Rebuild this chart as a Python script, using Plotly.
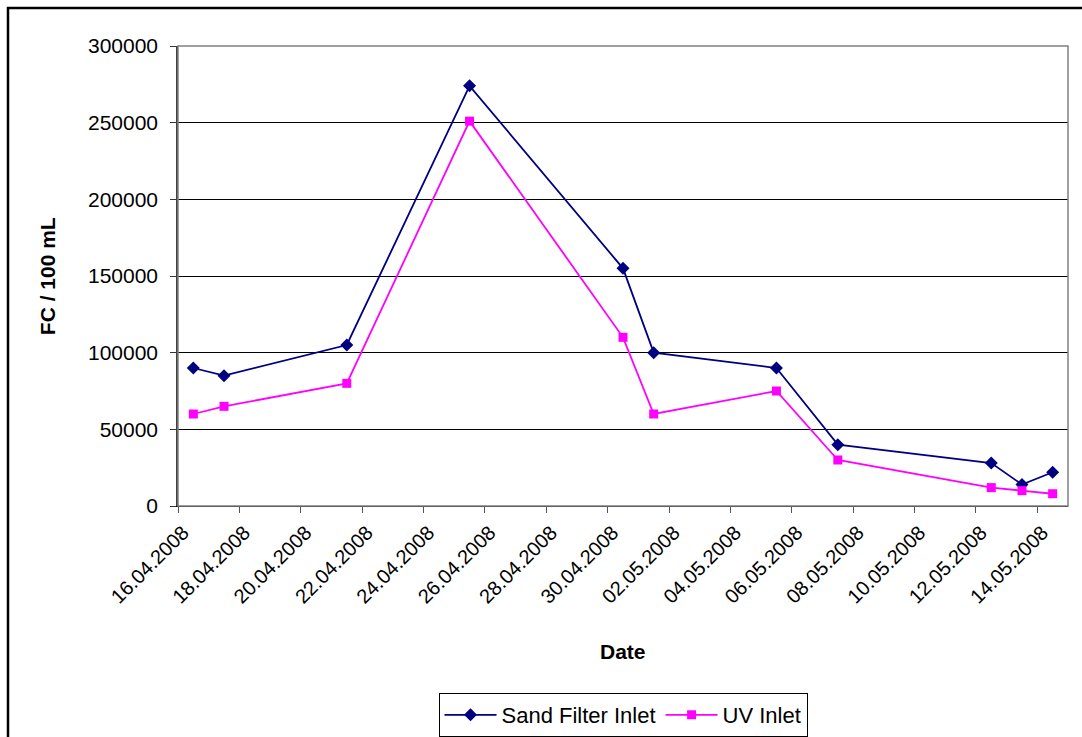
import pandas as pd
import plotly.graph_objects as go

# Sampling dates and faecal coliform counts (FC / 100 mL)
dates = ["2008-04-16", "2008-04-17", "2008-04-21", "2008-04-25", "2008-04-30",
         "2008-05-01", "2008-05-05", "2008-05-07", "2008-05-12", "2008-05-13",
         "2008-05-14"]
sand_filter_inlet = [90000, 85000, 105000, 274000, 155000, 100000, 90000,
                     40000, 28000, 14000, 22000]
uv_inlet = [60000, 65000, 80000, 251000, 110000, 60000, 75000, 30000,
            12000, 10000, 8000]

y_ticks = [0, 50000, 100000, 150000, 200000, 250000, 300000]

# daily samples are plotted at mid-day on the date axis
x = pd.to_datetime(dates) + pd.Timedelta(hours=12)

FONT = "Liberation Sans, Arial, sans-serif"

fig = go.Figure()
fig.add_trace(go.Scatter(
    x=x, y=sand_filter_inlet, name="Sand Filter Inlet", mode="lines+markers",
    line=dict(color="#000080", width=1.8),
    marker=dict(symbol="diamond", size=10, color="#000080"),
))
fig.add_trace(go.Scatter(
    x=x, y=uv_inlet, name="UV Inlet", mode="lines+markers",
    line=dict(color="#FF00FF", width=1.8),
    marker=dict(symbol="square", size=9, color="#FF00FF"),
))

fig.update_layout(
    width=1082, height=737,
    margin=dict(l=178, r=14, t=46, b=231, autoexpand=False),
    paper_bgcolor="white", plot_bgcolor="white",
    font=dict(family=FONT, size=20, color="black"),
    showlegend=True,
    legend=dict(
        orientation="h", x=0.5, xanchor="center", y=-0.4065, yanchor="top",
        bordercolor="black", borderwidth=1, bgcolor="white",
        font=dict(family=FONT, size=22, color="black"),
        itemwidth=52, tracegroupgap=0,
    ),
    xaxis=dict(
        type="date", automargin=False,
        range=["2008-04-16", "2008-05-15"],
        tick0="2008-04-16", dtick=2 * 86400000,
        tickformat="%d.%m.%Y", tickangle=-45,
        ticks="outside", ticklen=6, tickcolor="#555555",
        ticklabelshift=5,
        showline=True, linecolor="black", linewidth=1,
        showgrid=False, zeroline=False,
        tickfont=dict(family=FONT, size=20, color="black"),
    ),
    yaxis=dict(
        automargin=False,
        range=[0, 300000], tickvals=y_ticks,
        ticktext=[str(v) for v in y_ticks],
        ticks="outside", ticklen=6, tickcolor="#333333",
        ticklabelstandoff=8,
        showline=True, linecolor="#404040", linewidth=1.5,
        showgrid=True, gridcolor="black", gridwidth=1,
        zeroline=False,
        tickfont=dict(family=FONT, size=21, color="black"),
    ),
    annotations=[
        dict(text="<b>Date</b>", xref="paper", yref="paper", x=0.5, y=-0.317,
             xanchor="center", yanchor="middle", showarrow=False,
             font=dict(family=FONT, size=21, color="black")),
        dict(text="<b>FC / 100 mL</b>", xref="paper", yref="paper",
             x=-0.147, y=0.5, xanchor="center", yanchor="middle",
             textangle=-90, showarrow=False,
             font=dict(family=FONT, size=21, color="black")),
    ],
    shapes=[
        # plot area frame
        dict(type="rect", xref="paper", yref="paper", x0=0, x1=1, y0=0, y1=1,
             line=dict(color="#808080", width=1.5), layer="above"),
        # chart area frame
        dict(type="rect", xref="paper", yref="paper",
             x0=(8 - 178) / 890, x1=(1095 - 178) / 890,
             y0=(506 - 750) / 460, y1=(506 - 8) / 460,
             line=dict(color="black", width=2.5), layer="above"),
    ],
)

fig.write_html("out.html")
